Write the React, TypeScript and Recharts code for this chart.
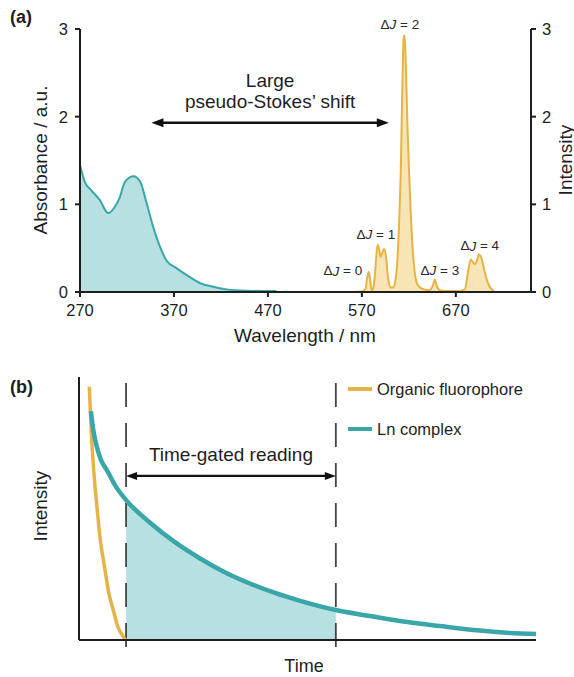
import React from 'react';
import {
  ComposedChart,
  Area,
  Line,
  XAxis,
  YAxis,
  ReferenceLine,
  ReferenceDot,
  Legend,
  Label,
} from 'recharts';

const FONT = '"Liberation Sans", Arial, Helvetica, sans-serif';
const INK = '#1e1e1e';
const TEAL = '#3aa6a8';
const TEAL_FILL = '#b6e0e2';
const GOLD = '#e6b445';
const GOLD_FILL = '#f8e5b6';

// ---------- panel (a): spectra ----------
const wavelengthTicks = [270, 370, 470, 570, 670];
const intensityTicks = [0, 1, 2, 3];

const absWavelength = [270, 275, 282, 291, 300, 307, 312, 318, 327, 334, 341, 348, 355, 362, 373, 384, 398, 412, 426, 447, 479];
const absValues = [1.45, 1.26, 1.16, 1.05, 0.9, 0.97, 1.07, 1.26, 1.32, 1.26, 1.01, 0.74, 0.52, 0.36, 0.27, 0.19, 0.1, 0.06, 0.03, 0.015, 0.01];

const emWavelength = [
  545, 560, 570, 574, 575.5, 577.4, 579, 580.5, 582, 583.5, 586.7, 588.5, 589.8, 591.5, 593.4, 595.5, 598, 601,
  603, 606, 608, 610, 611.5, 613, 614.5, 615.5, 617, 618.5, 620, 622, 624, 626, 628, 631, 636,
  642, 645.5, 647.7, 650, 653, 662, 672, 679.6, 682.5, 686, 688.3, 690.3, 692.5, 694.5, 697.5, 700, 702.7, 706, 710.5,
];
const emValues = [
  0, 0, 0.005, 0.04, 0.15, 0.23, 0.12, 0.02, 0.04, 0.15, 0.54, 0.48, 0.4, 0.44, 0.49, 0.42, 0.15, 0.05,
  0.05, 0.15, 0.4, 0.9, 1.43, 2.3, 2.9, 2.93, 2.5, 1.9, 1.43, 0.9, 0.5, 0.25, 0.12, 0.06, 0.03,
  0.02, 0.07, 0.14, 0.06, 0.02, 0.01, 0.01, 0.03, 0.2, 0.37, 0.34, 0.32, 0.36, 0.43, 0.38, 0.26, 0.15, 0.06, 0.01,
];

const deltaJLabels = ['0', '1', '2', '3', '4'];
const deltaJWavelength = [549.8, 584.9, 610.4, 653, 695.5];
const deltaJHeight = [0.243, 0.661, 3.056, 0.25, 0.525];

const stokesArrowFrom = 346;
const stokesArrowTo = 598.7;
const stokesArrowLevel = 1.93;

// ---------- panel (b): decay ----------
const seriesOrder = ['Organic fluorophore', 'Ln complex'];

const organicTime = [2.25, 2.75, 3.2, 3.85, 4.6, 5.7, 6.5, 7.5, 8.5, 9.7, 10.2];
const organicIntensity = [96.3, 77, 65, 52, 39, 26.6, 18, 11.4, 5, 1.3, 0];

const lnTime = [2.6, 3.2, 3.9, 4.8, 6.1, 8, 10.3, 15.5, 21.0, 26.5, 31.9, 37.4, 42.9, 48.4, 56.2, 63.7, 70.2, 79.0, 87.7, 94.3, 100];
const lnIntensity = [87, 79, 73.5, 68.5, 64.6, 58.5, 53.2, 44.7, 37.2, 31, 25.8, 21.5, 17.9, 14.9, 11.4, 9.1, 7.2, 5.3, 3.6, 2.7, 2.3];

const gateStart = 10.3;
const gateEnd = 56.2;
const gateArrowLevel = 62.4;

const absData = absWavelength.map((w, i) => ({ w, a: absValues[i] }));
const emData = emWavelength.map((w, i) => ({ w, e: emValues[i] }));
const organicData = organicTime.map((t, i) => ({ t, v: organicIntensity[i] }));
const lnData = lnTime.map((t, i) => ({ t, v: lnIntensity[i] }));
const gatedData = lnData.filter((d) => d.t >= gateStart && d.t <= gateEnd);

const textStyle = { fontFamily: FONT, fill: INK };

const titleAt = (text: string, x: number, y: number, rotate = 0, size = 19) => () => (
  <text
    x={x}
    y={y}
    textAnchor="middle"
    dominantBaseline="central"
    fontSize={size}
    transform={rotate ? `rotate(${rotate} ${x} ${y})` : undefined}
    style={textStyle}
  >
    {text}
  </text>
);

const doubleArrow = (lines: string[], headLen: number, headHalf: number, width: number) => (p: any) => {
  const { x1, y1, x2 } = p;
  const cx = (x1 + x2) / 2;
  return (
    <g>
      <line x1={x1 + headLen - 1} y1={y1} x2={x2 - headLen + 1} y2={y1} stroke="#111" strokeWidth={width} />
      <polygon points={`${x1},${y1} ${x1 + headLen},${y1 - headHalf} ${x1 + headLen},${y1 + headHalf}`} fill="#111" />
      <polygon points={`${x2},${y1} ${x2 - headLen},${y1 - headHalf} ${x2 - headLen},${y1 + headHalf}`} fill="#111" />
      {lines.map((l, i) => (
        <text
          key={l}
          x={cx}
          y={y1 - 21 * (lines.length - i)}
          textAnchor="middle"
          dominantBaseline="central"
          fontSize={19}
          style={textStyle}
        >
          {l}
        </text>
      ))}
    </g>
  );
};

const deltaJShape = (n: string) => (p: any) => (
  <text x={p.cx} y={p.cy} textAnchor="middle" dominantBaseline="central" fontSize={13.5} style={{ fontFamily: FONT, fill: '#2a2a2a' }}>
    Δ<tspan fontStyle="italic">J</tspan> = {n}
  </text>
);

const legendContent = (props: any) => {
  const items = (props.payload || [])
    .filter((p: any) => p.type !== 'none' && seriesOrder.includes(p.value))
    .slice()
    .sort((a: any, b: any) => seriesOrder.indexOf(a.value) - seriesOrder.indexOf(b.value));
  return (
    <div>
      {items.map((it: any) => (
        <div key={it.value} style={{ height: 40, display: 'flex', alignItems: 'center' }}>
          <div style={{ width: 24, height: 4, background: it.color, marginRight: 5 }} />
          <span style={{ fontFamily: FONT, fontSize: 16.5, color: INK }}>{it.value}</span>
        </div>
      ))}
    </div>
  );
};

const panelLabel = (text: string, top: number) => (
  <div
    style={{
      position: 'absolute',
      left: 10,
      top,
      fontFamily: FONT,
      fontSize: 18,
      fontWeight: 'bold',
      color: INK,
      lineHeight: '20px',
    }}
  >
    {text}
  </div>
);

const axisLine = { stroke: INK, strokeWidth: 2 };

export default function App() {
  return (
    <div style={{ position: 'absolute', left: 0, top: 0, width: 574, height: 677, background: '#fff' }}>
      <div style={{ position: 'absolute', left: 0, top: 0 }}>
        <ComposedChart width={574} height={355} margin={{ top: 29, right: 3, left: 40, bottom: 33 }}>
          <XAxis
            dataKey="w"
            type="number"
            domain={[270, 750]}
            ticks={wavelengthTicks}
            allowDataOverflow
            height={30}
            axisLine={axisLine}
            tickLine={axisLine}
            tickSize={5}
            tickMargin={7}
            tick={{ fontSize: 16.5, fontFamily: FONT, fill: INK }}
            label={<Label content={titleAt('Wavelength / nm', 305, 335)} />}
          />
          <YAxis
            yAxisId="left"
            type="number"
            domain={[0, 3]}
            ticks={intensityTicks}
            width={40}
            axisLine={axisLine}
            tickLine={axisLine}
            tickSize={5}
            tickMargin={7}
            tick={{ fontSize: 16.5, fontFamily: FONT, fill: INK }}
            label={<Label content={titleAt('Absorbance / a.u.', 40, 160, -90)} />}
          />
          <YAxis
            yAxisId="right"
            orientation="right"
            type="number"
            domain={[0, 3]}
            ticks={intensityTicks}
            width={40}
            axisLine={axisLine}
            tickLine={axisLine}
            tickSize={5}
            tickMargin={6}
            tick={{ fontSize: 16.5, fontFamily: FONT, fill: INK }}
            label={<Label content={titleAt('Intensity', 565, 160, -90)} />}
          />
          <Area
            data={absData}
            yAxisId="left"
            dataKey="a"
            type="monotone"
            stroke={TEAL}
            strokeWidth={2}
            fill={TEAL_FILL}
            fillOpacity={1}
            isAnimationActive={false}
          />
          <Area
            data={emData}
            yAxisId="right"
            dataKey="e"
            type="monotone"
            stroke={GOLD}
            strokeWidth={2}
            fill={GOLD_FILL}
            fillOpacity={1}
            isAnimationActive={false}
          />
          <ReferenceLine
            yAxisId="left"
            segment={[
              { x: stokesArrowFrom, y: stokesArrowLevel },
              { x: stokesArrowTo, y: stokesArrowLevel },
            ]}
            ifOverflow="visible"
            shape={doubleArrow(['Large', 'pseudo-Stokes’ shift'], 12, 4.5, 2.5)}
          />
          {deltaJLabels.map((n, i) => (
            <ReferenceDot
              key={n}
              yAxisId="right"
              x={deltaJWavelength[i]}
              y={deltaJHeight[i]}
              ifOverflow="visible"
              shape={deltaJShape(n)}
            />
          ))}
        </ComposedChart>
      </div>
      <div style={{ position: 'absolute', left: 0, top: 345 }}>
        <ComposedChart width={574} height={332} margin={{ top: 32, right: 38, left: 39, bottom: 7 }}>
          <XAxis
            dataKey="t"
            type="number"
            domain={[0, 100]}
            allowDataOverflow
            height={30}
            tick={false}
            tickLine={false}
            axisLine={axisLine}
            label={<Label content={titleAt('Time', 304, 321, 0, 18)} />}
          />
          <YAxis
            type="number"
            domain={[0, 100]}
            width={40}
            tick={false}
            tickLine={false}
            axisLine={axisLine}
            label={<Label content={titleAt('Intensity', 40, 161, -90)} />}
          />
          <Area
            data={gatedData}
            dataKey="v"
            type="monotone"
            stroke="none"
            fill={TEAL_FILL}
            fillOpacity={1}
            legendType="none"
            isAnimationActive={false}
          />
          <ReferenceLine
            segment={[
              { x: gateStart, y: -2.7 },
              { x: gateStart, y: 100 },
            ]}
            ifOverflow="visible"
            stroke="#444"
            strokeWidth={1.8}
            strokeDasharray="24 16"
          />
          <ReferenceLine
            segment={[
              { x: gateEnd, y: -2.7 },
              { x: gateEnd, y: 100 },
            ]}
            ifOverflow="visible"
            stroke="#444"
            strokeWidth={1.8}
            strokeDasharray="24 16"
          />
          <Line
            data={organicData}
            dataKey="v"
            name="Organic fluorophore"
            type="monotone"
            stroke={GOLD}
            strokeWidth={3.5}
            dot={false}
            isAnimationActive={false}
          />
          <Line
            data={lnData}
            dataKey="v"
            name="Ln complex"
            type="monotone"
            stroke={TEAL}
            strokeWidth={4.5}
            dot={false}
            isAnimationActive={false}
          />
          <ReferenceLine
            segment={[
              { x: gateStart, y: gateArrowLevel },
              { x: gateEnd, y: gateArrowLevel },
            ]}
            ifOverflow="visible"
            shape={doubleArrow(['Time-gated reading'], 11, 4, 2.2)}
          />
          <Legend
            layout="vertical"
            align="center"
            verticalAlign="middle"
            content={legendContent}
            wrapperStyle={{ position: 'absolute', left: 348, top: 24, width: 200 }}
          />
        </ComposedChart>
      </div>
      {panelLabel('(a)', 7)}
      {panelLabel('(b)', 377)}
    </div>
  );
}
